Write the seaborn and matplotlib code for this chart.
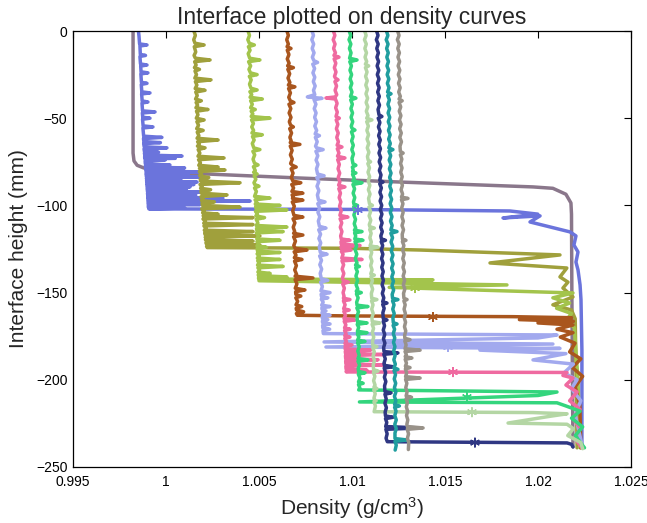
import numpy as np
import pandas as pd
import matplotlib
matplotlib.use("Agg")
import matplotlib.pyplot as plt
import seaborn as sns

# Density profiles (height in mm, density in g/cm^3), one list per run
run01 = [(0, 0.99823), (-70, 0.99823), (-74.5, 0.99828), (-77, 0.99845), (-78.5, 0.99880),
         (-81.4, 1.00091), (-84.3, 1.00720), (-86.6, 1.01258), (-89.4, 1.01973), (-90.2, 1.02080),
         (-93.6, 1.02150), (-98.6, 1.02177), (-105, 1.02180), (-150, 1.02182), (-200, 1.02185),
         (-238.5, 1.02188)]

run02 = [(0, 0.99852), (-3, 0.99855), (-7.4, 0.99858), (-8, 0.99898), (-8.6, 0.99860), (-13.4, 0.99862),
         (-14, 0.99890), (-14.6, 0.99860), (-18.9, 0.99863), (-19.5, 0.99898), (-20.1, 0.99864),
         (-23.4, 0.99866), (-24, 0.99903), (-24.6, 0.99865), (-29.4, 0.99868), (-30, 0.99898),
         (-30.6, 0.99867), (-34.9, 0.99870), (-35.5, 0.99914), (-36.1, 0.99869), (-40.1, 0.99872),
         (-40.7, 0.99903), (-41.3, 0.99871), (-45.8, 0.99874), (-46.4, 0.99941), (-47, 0.99873),
         (-49.4, 0.99875), (-50, 0.99914), (-50.6, 0.99874), (-54.4, 0.99877), (-55, 0.99930),
         (-55.6, 0.99876), (-60.3, 0.99880), (-61, 0.99978), (-61.7, 0.99879), (-63.4, 0.99881),
         (-64, 0.99970), (-64.6, 0.99880), (-66.4, 0.99883), (-67, 1.00005), (-67.6, 0.99882),
         (-69, 0.99884), (-69.5, 0.99960), (-70, 0.99884), (-71.1, 0.99886), (-71.7, 1.00086),
         (-72.3, 0.99885), (-72.6, 0.99886), (-73, 1.00050), (-73.4, 0.99887), (-74, 0.99995),
         (-74.6, 0.99888), (-76.2, 0.99889), (-76.8, 1.00021), (-77.4, 0.99889), (-78, 0.99890),
         (-78.5, 1.00100), (-79, 0.99891), (-80.2, 0.99892), (-80.8, 1.00183), (-81.4, 0.99893),
         (-81.8, 0.99893), (-82.2, 1.00120), (-82.6, 0.99894), (-83.2, 0.99894), (-83.7, 1.00183),
         (-84.3, 0.99895), (-84.6, 0.99895), (-85, 1.00080), (-85.4, 0.99896), (-86.1, 0.99896),
         (-86.6, 1.00167), (-87.1, 0.99897), (-87.6, 0.99897), (-88, 1.00150), (-88.4, 0.99898),
         (-88.9, 0.99898), (-89.4, 1.00129), (-89.9, 0.99899), (-90.6, 0.99899), (-91, 1.00110),
         (-91.4, 0.99900), (-91.8, 0.99900), (-92.3, 1.00183), (-92.8, 0.99901), (-93.6, 0.99901),
         (-94, 1.00160), (-94.4, 0.99902), (-95.3, 0.99902), (-95.8, 1.00306), (-96.3, 0.99903),
         (-97, 0.99903), (-97.5, 1.00452), (-98, 0.99904), (-99, 0.99904), (-99.5, 1.00183),
         (-100, 0.99905), (-101, 0.99905), (-101.5, 1.00100), (-102, 0.99908), (-102.3, 1.01000),
         (-103.2, 1.01849), (-105, 1.01999), (-107.2, 1.01812), (-106, 1.02011), (-109.5, 1.01957),
         (-115.2, 1.02172), (-117.5, 1.02204), (-122.7, 1.02193), (-126.7, 1.02215), (-132.5, 1.02204),
         (-137, 1.02215), (-145.6, 1.02226), (-154, 1.02231), (-183, 1.02236), (-238.5, 1.02236)]

run03 = [(0, 1.00150), (-2.5, 1.00158), (-5, 1.00149), (-7, 1.00156), (-8, 1.00205), (-9, 1.00152),
         (-12, 1.00160), (-14, 1.00151), (-15.6, 1.00158), (-16.6, 1.00237), (-17.6, 1.00154),
         (-19.5, 1.00162), (-21, 1.00153), (-22, 1.00180), (-23, 1.00156), (-25, 1.00164), (-27, 1.00155),
         (-28, 1.00242), (-29, 1.00158), (-31, 1.00166), (-33, 1.00157), (-34, 1.00210), (-35, 1.00160),
         (-37, 1.00168), (-39, 1.00159), (-40, 1.00190), (-41, 1.00162), (-42.5, 1.00170), (-44, 1.00161),
         (-45, 1.00226), (-46, 1.00164), (-48, 1.00172), (-50, 1.00163), (-51, 1.00205), (-52, 1.00166),
         (-54, 1.00175), (-56, 1.00165), (-57, 1.00200), (-58, 1.00168), (-60, 1.00177), (-61.5, 1.00167),
         (-62.5, 1.00280), (-63.5, 1.00170), (-65, 1.00179), (-66, 1.00169), (-67, 1.00210),
         (-68, 1.00173), (-70, 1.00182), (-71.8, 1.00172), (-72.8, 1.00312), (-73.8, 1.00175),
         (-75.5, 1.00185), (-77, 1.00176), (-78, 1.00280), (-78.8, 1.00180), (-79.7, 1.00317),
         (-80.6, 1.00179), (-82, 1.00190), (-83, 1.00181), (-84, 1.00230), (-85, 1.00184), (-86, 1.00186),
         (-87, 1.00398), (-88, 1.00183), (-89.5, 1.00195), (-90.2, 1.00186), (-91, 1.00240),
         (-91.8, 1.00188), (-93, 1.00190), (-94, 1.00328), (-95, 1.00188), (-96.5, 1.00200),
         (-97.2, 1.00191), (-98, 1.00260), (-98.8, 1.00194), (-100, 1.00196), (-101, 1.00398),
         (-102, 1.00192), (-103.5, 1.00206), (-104.2, 1.00197), (-105, 1.00280), (-105.8, 1.00200),
         (-106.2, 1.00201), (-107, 1.00468), (-107.8, 1.00199), (-109, 1.00212), (-110.2, 1.00203),
         (-111, 1.00468), (-111.8, 1.00204), (-113, 1.00215), (-114.2, 1.00206), (-115, 1.00468),
         (-115.8, 1.00208), (-116.7, 1.00210), (-117.5, 1.00505), (-118.3, 1.00211), (-119, 1.00222),
         (-119.7, 1.00212), (-120.5, 1.00468), (-121.3, 1.00215), (-121.9, 1.00216), (-122.7, 1.00505),
         (-123.5, 1.00218), (-124.2, 1.00222), (-124.6, 1.01000), (-125.6, 1.01370), (-128.4, 1.02118),
         (-133, 1.01742), (-135.9, 1.02155), (-141, 1.02118), (-144, 1.02161), (-147.4, 1.02134),
         (-152.5, 1.02188), (-157, 1.02080), (-160, 1.02180), (-165, 1.02200), (-200, 1.02205),
         (-239, 1.02210)]

run04 = [(0, 1.00441), (-2.5, 1.00449), (-5, 1.00440), (-7, 1.00448), (-8, 1.00475), (-9, 1.00443),
         (-11, 1.00452), (-13, 1.00442), (-15.6, 1.00450), (-16.6, 1.00505), (-17.6, 1.00444),
         (-20, 1.00455), (-22, 1.00446), (-24, 1.00454), (-25, 1.00490), (-26, 1.00448), (-28, 1.00458),
         (-30.5, 1.00449), (-32.8, 1.00457), (-33.8, 1.00490), (-34.8, 1.00451), (-36.5, 1.00461),
         (-38, 1.00452), (-39, 1.00518), (-40, 1.00455), (-42, 1.00464), (-44, 1.00455), (-45, 1.00480),
         (-46, 1.00458), (-47.5, 1.00467), (-49, 1.00458), (-50, 1.00559), (-51, 1.00460), (-53, 1.00470),
         (-55, 1.00461), (-57, 1.00471), (-58.5, 1.00462), (-59.5, 1.00518), (-60.5, 1.00465),
         (-62.5, 1.00474), (-64.5, 1.00464), (-67, 1.00472), (-68, 1.00505), (-69, 1.00467),
         (-71, 1.00477), (-73.5, 1.00468), (-75.8, 1.00476), (-76.8, 1.00495), (-77.8, 1.00470),
         (-80, 1.00480), (-81, 1.00471), (-82, 1.00490), (-83, 1.00474), (-85, 1.00483), (-87, 1.00473),
         (-88, 1.00477), (-89, 1.00500), (-90, 1.00476), (-92, 1.00486), (-94.8, 1.00476),
         (-95.8, 1.00559), (-96.8, 1.00479), (-98.5, 1.00489), (-99.2, 1.00480), (-100, 1.00613),
         (-100.8, 1.00482), (-101.8, 1.00484), (-102.6, 1.00650), (-103.4, 1.00481), (-105, 1.00492),
         (-106, 1.00483), (-107, 1.00530), (-108, 1.00485), (-110, 1.00494), (-111.5, 1.00485),
         (-112.4, 1.00650), (-113.2, 1.00487), (-114.2, 1.00488), (-115, 1.00630), (-115.8, 1.00486),
         (-117.5, 1.00497), (-119.2, 1.00488), (-120, 1.00613), (-120.8, 1.00489), (-122, 1.00498),
         (-123.2, 1.00489), (-124, 1.00540), (-124.8, 1.00490), (-126.2, 1.00492), (-127, 1.00613),
         (-127.8, 1.00490), (-129, 1.00500), (-130.2, 1.00491), (-131, 1.00613), (-131.8, 1.00493),
         (-133, 1.00501), (-134.2, 1.00492), (-135, 1.00630), (-135.8, 1.00494), (-137, 1.00503),
         (-138.2, 1.00494), (-139, 1.00560), (-139.8, 1.00496), (-140.3, 1.00497), (-141, 1.00650),
         (-141.7, 1.00497), (-142.2, 1.00500), (-142.7, 1.01435), (-143.2, 1.00500), (-145.6, 1.01833),
         (-147, 1.01200), (-150.2, 1.02188), (-153, 1.02080), (-156, 1.02170), (-159, 1.02100),
         (-162, 1.02180), (-166, 1.02150), (-170, 1.02195), (-200, 1.02215), (-239, 1.02226)]

run05 = [(0, 1.00650), (-2.5, 1.00658), (-5, 1.00649), (-7.5, 1.00658), (-9, 1.00651), (-10, 1.00672),
         (-11, 1.00652), (-13.5, 1.00661), (-16, 1.00652), (-18.5, 1.00662), (-20, 1.00654), (-21, 1.00685),
         (-22, 1.00655), (-24.5, 1.00665), (-27, 1.00656), (-29.5, 1.00666), (-31, 1.00658), (-32, 1.00693),
         (-33, 1.00659), (-35.5, 1.00669), (-38, 1.00660), (-40, 1.00668), (-41, 1.00688), (-42, 1.00661),
         (-44.5, 1.00671), (-47, 1.00662), (-49.5, 1.00672), (-52, 1.00663), (-54, 1.00670),
         (-55, 1.00685), (-56, 1.00665), (-58.5, 1.00675), (-61, 1.00666), (-63, 1.00673), (-64, 1.00668),
         (-65, 1.00720), (-66, 1.00668), (-68.5, 1.00678), (-71, 1.00669), (-73.5, 1.00679), (-76, 1.00670),
         (-77, 1.00680), (-78, 1.00700), (-79, 1.00673), (-81.5, 1.00683), (-84, 1.00674), (-86, 1.00682),
         (-87, 1.00725), (-88, 1.00676), (-90, 1.00686), (-92, 1.00677), (-93, 1.00736), (-94, 1.00678),
         (-95.2, 1.00684), (-96, 1.00680), (-97, 1.00736), (-98, 1.00679), (-100.5, 1.00690),
         (-103, 1.00681), (-105.7, 1.00688), (-106.7, 1.00736), (-107.7, 1.00683), (-110, 1.00693),
         (-112.5, 1.00684), (-115, 1.00692), (-116, 1.00686), (-117, 1.00736), (-118, 1.00686),
         (-120.5, 1.00696), (-123, 1.00687), (-124.6, 1.00694), (-125.6, 1.00758), (-126.6, 1.00689),
         (-128.5, 1.00699), (-130, 1.00690), (-131, 1.00731), (-132, 1.00691), (-134.5, 1.00701),
         (-137, 1.00692), (-139.5, 1.00702), (-140.6, 1.00694), (-141.6, 1.00790), (-142.6, 1.00694),
         (-145, 1.00704), (-147.5, 1.00695), (-148.5, 1.00747), (-149.5, 1.00697), (-151, 1.00698),
         (-152, 1.00725), (-153, 1.00698), (-155, 1.00708), (-157, 1.00699), (-158, 1.00730),
         (-159, 1.00700), (-160, 1.00702), (-161, 1.00740), (-162, 1.00701), (-163, 1.00706),
         (-163.4, 1.01000), (-163.8, 1.01865), (-164.4, 1.02180), (-165.5, 1.01900), (-166.5, 1.02190),
         (-167.4, 1.02000), (-168.6, 1.02188), (-171, 1.02102), (-173, 1.02188), (-175.5, 1.02120),
         (-179, 1.02199), (-184, 1.02170), (-188, 1.02230), (-193, 1.02185), (-198, 1.02240),
         (-204, 1.02200), (-215, 1.02225), (-239, 1.02230)]

run06 = [(0, 1.00785), (-2.5, 1.00793), (-5, 1.00784), (-7.5, 1.00794), (-10, 1.00786), (-12.5, 1.00796),
         (-15, 1.00787), (-17, 1.00795), (-18, 1.00815), (-19, 1.00789), (-21.5, 1.00799), (-24, 1.00790),
         (-26.5, 1.00800), (-29, 1.00792), (-31.5, 1.00802), (-34, 1.00793), (-36.5, 1.00800),
         (-37.8, 1.00760), (-38.2, 1.00800), (-38.6, 1.00839), (-39.4, 1.00796), (-42, 1.00806),
         (-44.5, 1.00797), (-47, 1.00807), (-49.5, 1.00799), (-52, 1.00809), (-54.5, 1.00800),
         (-57, 1.00810), (-59, 1.00802), (-60, 1.00825), (-61, 1.00803), (-63.5, 1.00813), (-66, 1.00804),
         (-67, 1.00810), (-68, 1.00845), (-69, 1.00806), (-71.5, 1.00816), (-74, 1.00807), (-76.5, 1.00817),
         (-79, 1.00809), (-82, 1.00815), (-83, 1.00850), (-84, 1.00811), (-86.5, 1.00821), (-89, 1.00812),
         (-91.5, 1.00822), (-94, 1.00814), (-97, 1.00820), (-98, 1.00855), (-99, 1.00816),
         (-101.5, 1.00826), (-104, 1.00817), (-106.5, 1.00827), (-109, 1.00819), (-112, 1.00825),
         (-113, 1.00860), (-114, 1.00821), (-116.5, 1.00831), (-119, 1.00822), (-121.5, 1.00832),
         (-124, 1.00824), (-127, 1.00830), (-128, 1.00866), (-129, 1.00826), (-131.5, 1.00836),
         (-134, 1.00827), (-136.5, 1.00837), (-139, 1.00829), (-142, 1.00835), (-143, 1.00870),
         (-144, 1.00831), (-146.5, 1.00841), (-149, 1.00833), (-150, 1.00882), (-151, 1.00834),
         (-152.2, 1.00836), (-153, 1.00870), (-153.8, 1.00835), (-155.5, 1.00845), (-157.2, 1.00837),
         (-158, 1.00882), (-158.8, 1.00838), (-159.7, 1.00839), (-160.5, 1.00860), (-161.3, 1.00839),
         (-162.2, 1.00840), (-163, 1.00882), (-163.8, 1.00840), (-164.7, 1.00841), (-165.5, 1.00870),
         (-166.3, 1.00841), (-167.2, 1.00842), (-168, 1.00882), (-168.8, 1.00842), (-170.2, 1.00843),
         (-171, 1.00880), (-171.8, 1.00844), (-173.5, 1.00846), (-174.3, 1.02102), (-176, 1.02000),
         (-178.3, 1.00850), (-179.5, 1.02080), (-181.2, 1.00860), (-182, 1.02118), (-183, 1.01688),
         (-185, 1.02150), (-188.6, 1.01973), (-191, 1.02190), (-196, 1.02140), (-200, 1.02210),
         (-205, 1.02180), (-212, 1.02230), (-220, 1.02200), (-239, 1.02240)]

run07 = [(0, 1.00900), (-2.5, 1.00908), (-5, 1.00899), (-7.5, 1.00909), (-10, 1.00901), (-12.5, 1.00911),
         (-14, 1.00903), (-15, 1.00930), (-16, 1.00904), (-18.5, 1.00913), (-21, 1.00905),
         (-23.5, 1.00914), (-26, 1.00906), (-27, 1.00911), (-28, 1.00925), (-29, 1.00908),
         (-31.5, 1.00917), (-34, 1.00909), (-36.5, 1.00918), (-37.8, 1.00910), (-38.4, 1.00860),
         (-39, 1.00911), (-41.5, 1.00920), (-44, 1.00912), (-46.5, 1.00921), (-49, 1.00914),
         (-50, 1.00932), (-51, 1.00915), (-53.5, 1.00924), (-56, 1.00916), (-58.5, 1.00926),
         (-61, 1.00918), (-63.5, 1.00927), (-65.5, 1.00920), (-66.5, 1.00946), (-67.5, 1.00921),
         (-70, 1.00930), (-71.8, 1.00922), (-72.8, 1.00962), (-73.8, 1.00923), (-76.5, 1.00932),
         (-79, 1.00925), (-81.5, 1.00934), (-84, 1.00926), (-86.5, 1.00935), (-88.4, 1.00928),
         (-89.4, 1.00962), (-90.4, 1.00929), (-93, 1.00938), (-95.5, 1.00931), (-98, 1.00940),
         (-100.5, 1.00933), (-103, 1.00942), (-105.7, 1.00935), (-106.7, 1.00978), (-107.7, 1.00936),
         (-110, 1.00945), (-112.5, 1.00937), (-115, 1.00946), (-117.5, 1.00939), (-119.2, 1.00942),
         (-120, 1.00989), (-120.8, 1.00941), (-122.2, 1.00942), (-123, 1.01043), (-123.8, 1.00941),
         (-124.8, 1.00944), (-125.6, 1.00995), (-126.4, 1.00943), (-128, 1.00952), (-130.2, 1.00945),
         (-131, 1.01054), (-131.8, 1.00946), (-134, 1.00955), (-136.5, 1.00947), (-139, 1.00956),
         (-141.5, 1.00949), (-143, 1.00952), (-144, 1.00980), (-145, 1.00950), (-147.5, 1.00959),
         (-150, 1.00952), (-152, 1.00957), (-153.2, 1.00954), (-154, 1.00989), (-154.8, 1.00954),
         (-157, 1.00963), (-159.2, 1.00955), (-160, 1.00985), (-160.8, 1.00956), (-163, 1.00965),
         (-164.9, 1.00957), (-165.7, 1.01016), (-166.5, 1.00958), (-168.5, 1.00967), (-170.2, 1.00960),
         (-171, 1.00990), (-171.8, 1.00960), (-173.5, 1.00968), (-174.7, 1.00961), (-175.5, 1.00989),
         (-176.3, 1.00961), (-178, 1.00970), (-179.2, 1.00962), (-180, 1.01000), (-180.8, 1.00963),
         (-181.6, 1.00965), (-182.3, 1.00963), (-183, 1.01100), (-183.7, 1.00964), (-184.8, 1.00965),
         (-185.5, 1.01167), (-186.2, 1.00965), (-187.8, 1.00966), (-188.5, 1.01140), (-189.2, 1.00966),
         (-190.8, 1.00967), (-191.5, 1.01167), (-192.2, 1.00967), (-193.8, 1.00968), (-194.5, 1.01080),
         (-195.2, 1.00968), (-195.5, 1.00970), (-195.8, 1.02156), (-197.5, 1.02134), (-199, 1.02188),
         (-203, 1.02150), (-207, 1.02210), (-212, 1.02170), (-217, 1.02226), (-222, 1.02185),
         (-228, 1.02230), (-233, 1.02195), (-239, 1.02235)]

run08 = [(0, 1.00985), (-2.5, 1.00993), (-5, 1.00984), (-7.5, 1.00994), (-10, 1.00986), (-12.5, 1.00995),
         (-15.6, 1.00987), (-16.6, 1.01027), (-17.6, 1.00988), (-20, 1.00997), (-22.5, 1.00989),
         (-25, 1.00998), (-27.5, 1.00990), (-30, 1.00999), (-32.5, 1.00991), (-35, 1.01000),
         (-37.5, 1.00992), (-38.5, 1.01021), (-39.5, 1.00993), (-42, 1.01002), (-44.5, 1.00994),
         (-47, 1.01003), (-49.5, 1.00995), (-52, 1.01004), (-54.5, 1.00996), (-55.8, 1.01000),
         (-56.8, 1.01016), (-57.8, 1.00997), (-60.5, 1.01006), (-63, 1.00998), (-65.5, 1.01007),
         (-68, 1.00999), (-70.5, 1.01008), (-73, 1.01000), (-76, 1.01005), (-77, 1.01021), (-78, 1.01002),
         (-79.5, 1.01006), (-80.6, 1.01003), (-81.4, 1.01021), (-82.2, 1.01003), (-84.5, 1.01012),
         (-86, 1.01004), (-87, 1.01054), (-88, 1.01005), (-90.5, 1.01014), (-93, 1.01006),
         (-95.5, 1.01015), (-98, 1.01008), (-99.2, 1.01010), (-100, 1.01030), (-100.8, 1.01009),
         (-103, 1.01018), (-105.5, 1.01010), (-108, 1.01019), (-110.5, 1.01012), (-113, 1.01020),
         (-114.2, 1.01013), (-115, 1.01054), (-115.8, 1.01014), (-117.5, 1.01020), (-119.2, 1.01015),
         (-120, 1.01059), (-120.8, 1.01016), (-123, 1.01025), (-125.5, 1.01017), (-128, 1.01026),
         (-130.5, 1.01018), (-133, 1.01027), (-134.2, 1.01019), (-135, 1.01040), (-135.8, 1.01020),
         (-138, 1.01029), (-140.5, 1.01021), (-143, 1.01030), (-145.5, 1.01022), (-148, 1.01031),
         (-149.2, 1.01023), (-150, 1.01050), (-150.8, 1.01024), (-153, 1.01033), (-155.5, 1.01025),
         (-157.2, 1.01027), (-158, 1.01086), (-158.8, 1.01026), (-161, 1.01035), (-163.5, 1.01027),
         (-166.6, 1.01029), (-167.4, 1.01081), (-168.2, 1.01028), (-170, 1.01036), (-172.2, 1.01029),
         (-173, 1.01081), (-173.8, 1.01029), (-175.5, 1.01037), (-177.2, 1.01030), (-178, 1.01070),
         (-178.8, 1.01030), (-181, 1.01039), (-183.5, 1.01031), (-186, 1.01039), (-187.8, 1.01032),
         (-188.6, 1.01086), (-189.4, 1.01032), (-191.5, 1.01041), (-193.5, 1.01033), (-195.2, 1.01035),
         (-196, 1.01070), (-196.8, 1.01034), (-199, 1.01043), (-201.2, 1.01035), (-202, 1.01060),
         (-202.8, 1.01035), (-204.5, 1.01042), (-205.8, 1.01036), (-207, 1.02102), (-209, 1.02000),
         (-212.7, 1.01040), (-213.2, 1.02102), (-215, 1.02150), (-218, 1.02226), (-222, 1.02180),
         (-227, 1.02240), (-232, 1.02200), (-239, 1.02250)]

run09 = [(0, 1.01068), (-2.5, 1.01076), (-5, 1.01067), (-7.5, 1.01077), (-10, 1.01069), (-12.5, 1.01078),
         (-15, 1.01070), (-17.5, 1.01079), (-19, 1.01072), (-20, 1.01090), (-21, 1.01072),
         (-23.5, 1.01081), (-26, 1.01073), (-28.5, 1.01082), (-31, 1.01074), (-33.5, 1.01083),
         (-36, 1.01075), (-38.5, 1.01084), (-41, 1.01076), (-43.5, 1.01085), (-46, 1.01077),
         (-48.5, 1.01086), (-50, 1.01079), (-51, 1.01107), (-52, 1.01079), (-54.5, 1.01088),
         (-57, 1.01080), (-59.5, 1.01089), (-62, 1.01081), (-64.5, 1.01090), (-67, 1.01082),
         (-69.5, 1.01091), (-72, 1.01083), (-74, 1.01087), (-75, 1.01100), (-76, 1.01085),
         (-78.5, 1.01094), (-81, 1.01086), (-83.5, 1.01095), (-86, 1.01087), (-88.5, 1.01096),
         (-91, 1.01088), (-93.5, 1.01097), (-96, 1.01089), (-99, 1.01094), (-100, 1.01110),
         (-101, 1.01091), (-103.5, 1.01100), (-106, 1.01092), (-108.5, 1.01101), (-111, 1.01093),
         (-112.2, 1.01096), (-113, 1.01120), (-113.8, 1.01095), (-116, 1.01103), (-118.5, 1.01096),
         (-121, 1.01104), (-123.2, 1.01097), (-124, 1.01140), (-124.8, 1.01098), (-127, 1.01106),
         (-129.5, 1.01099), (-132, 1.01107), (-134.5, 1.01100), (-137, 1.01108), (-139.2, 1.01101),
         (-140, 1.01120), (-140.8, 1.01102), (-143, 1.01110), (-145.5, 1.01103), (-148, 1.01111),
         (-150.5, 1.01104), (-153.2, 1.01106), (-154, 1.01134), (-154.8, 1.01105), (-157, 1.01113),
         (-159.5, 1.01106), (-162, 1.01114), (-164.5, 1.01107), (-166.6, 1.01109), (-167.4, 1.01150),
         (-168.2, 1.01108), (-170.5, 1.01116), (-173, 1.01109), (-175.5, 1.01117), (-178, 1.01110),
         (-180.2, 1.01112), (-181, 1.01134), (-181.8, 1.01112), (-184, 1.01120), (-186.5, 1.01113),
         (-189, 1.01121), (-191.5, 1.01114), (-194.2, 1.01116), (-195, 1.01140), (-195.8, 1.01115),
         (-198, 1.01123), (-200.5, 1.01116), (-203, 1.01124), (-204.2, 1.01118), (-205, 1.01134),
         (-205.8, 1.01117), (-208, 1.01125), (-210.5, 1.01118), (-211.4, 1.01120), (-212, 1.01130),
         (-212.6, 1.01118), (-215, 1.01126), (-218.3, 1.01119), (-218.8, 1.01973), (-219.5, 1.02156),
         (-221, 1.02060), (-224.8, 1.01839), (-225.5, 1.02156), (-228, 1.02190), (-232, 1.02160),
         (-236, 1.02230), (-239.5, 1.02240)]

run10 = [(0, 1.01132), (-2.5, 1.01140), (-5, 1.01131), (-7.5, 1.01141), (-10, 1.01133), (-12.5, 1.01142),
         (-15, 1.01134), (-17.5, 1.01143), (-20, 1.01135), (-22.5, 1.01144), (-25, 1.01136),
         (-27.5, 1.01145), (-30, 1.01137), (-32.5, 1.01146), (-35, 1.01138), (-37.5, 1.01147),
         (-40, 1.01139), (-42.5, 1.01148), (-45, 1.01140), (-48, 1.01145), (-49, 1.01161), (-50, 1.01141),
         (-52.5, 1.01150), (-55, 1.01142), (-57.5, 1.01151), (-60, 1.01143), (-62.5, 1.01152),
         (-65, 1.01144), (-67.5, 1.01153), (-70, 1.01145), (-72.5, 1.01154), (-75, 1.01146),
         (-77.5, 1.01155), (-80, 1.01147), (-82.5, 1.01156), (-85.6, 1.01149), (-86.6, 1.01167),
         (-87.6, 1.01149), (-90, 1.01158), (-92.5, 1.01150), (-95, 1.01159), (-97.5, 1.01151),
         (-100, 1.01160), (-102.5, 1.01152), (-105, 1.01161), (-107.5, 1.01153), (-110, 1.01162),
         (-112.5, 1.01154), (-115, 1.01163), (-117.5, 1.01155), (-119.2, 1.01158), (-120, 1.01180),
         (-120.8, 1.01157), (-123, 1.01165), (-125.5, 1.01158), (-128, 1.01166), (-130.5, 1.01159),
         (-133, 1.01167), (-135.5, 1.01160), (-138, 1.01168), (-140.5, 1.01161), (-143, 1.01169),
         (-145.5, 1.01162), (-148, 1.01170), (-150.5, 1.01163), (-153, 1.01171), (-155.2, 1.01165),
         (-156, 1.01188), (-156.8, 1.01165), (-159, 1.01173), (-161.5, 1.01166), (-164.9, 1.01168),
         (-165.7, 1.01188), (-166.5, 1.01168), (-169, 1.01175), (-171.5, 1.01168), (-174, 1.01176),
         (-176.5, 1.01169), (-179, 1.01177), (-181.5, 1.01170), (-183.8, 1.01172), (-184.6, 1.01247),
         (-185.4, 1.01171), (-188, 1.01179), (-190.5, 1.01172), (-191.7, 1.01174), (-192.5, 1.01220),
         (-193.3, 1.01173), (-196, 1.01181), (-198.5, 1.01174), (-201, 1.01182), (-203.5, 1.01175),
         (-206.7, 1.01177), (-207.5, 1.01210), (-208.3, 1.01177), (-211, 1.01184), (-213.5, 1.01177),
         (-216, 1.01185), (-218.5, 1.01178), (-220.7, 1.01180), (-221.5, 1.01220), (-222.3, 1.01180),
         (-224.5, 1.01187), (-226.8, 1.01181), (-227.6, 1.01366), (-228.4, 1.01182), (-231, 1.01189),
         (-233.5, 1.01183), (-235.5, 1.01190), (-236.2, 1.02156), (-237, 1.02180), (-238.5, 1.02188)]

run11 = [(0, 1.01185), (-2.5, 1.01193), (-5, 1.01184), (-7.5, 1.01194), (-10, 1.01186), (-12.5, 1.01195),
         (-15, 1.01187), (-17.5, 1.01196), (-20, 1.01188), (-22.5, 1.01197), (-25, 1.01189),
         (-27.5, 1.01198), (-30, 1.01190), (-32.5, 1.01199), (-35, 1.01191), (-36, 1.01210),
         (-37, 1.01192), (-39.5, 1.01201), (-42, 1.01193), (-44.5, 1.01202), (-47, 1.01194),
         (-49.5, 1.01203), (-52, 1.01195), (-54.5, 1.01204), (-57, 1.01196), (-59.5, 1.01205),
         (-62, 1.01197), (-64.5, 1.01206), (-67, 1.01198), (-68, 1.01220), (-69, 1.01199),
         (-71.5, 1.01208), (-74, 1.01200), (-76.5, 1.01209), (-79, 1.01201), (-81.5, 1.01210),
         (-84, 1.01202), (-86.5, 1.01211), (-89, 1.01203), (-91.5, 1.01212), (-94, 1.01204),
         (-96.5, 1.01213), (-99, 1.01205), (-101.5, 1.01214), (-104, 1.01206), (-106.5, 1.01215),
         (-109, 1.01207), (-111.5, 1.01216), (-114, 1.01209), (-115, 1.01242), (-116, 1.01209),
         (-118.5, 1.01218), (-121, 1.01210), (-123.5, 1.01219), (-126, 1.01211), (-128.5, 1.01220),
         (-131, 1.01212), (-133.5, 1.01221), (-136, 1.01213), (-138.5, 1.01222), (-141, 1.01214),
         (-143.5, 1.01223), (-146, 1.01215), (-148.5, 1.01224), (-151, 1.01216), (-153.2, 1.01218),
         (-154, 1.01247), (-154.8, 1.01218), (-157, 1.01226), (-159.5, 1.01219), (-162, 1.01227),
         (-164.5, 1.01220), (-167.2, 1.01222), (-168, 1.01242), (-168.8, 1.01221), (-171, 1.01229),
         (-173.5, 1.01222), (-176, 1.01230), (-178.5, 1.01223), (-181, 1.01231), (-183.5, 1.01224),
         (-186, 1.01232), (-188.5, 1.01225), (-191, 1.01233), (-193.2, 1.01226), (-194, 1.01247),
         (-194.8, 1.01226), (-197, 1.01234), (-199.5, 1.01227), (-202, 1.01235), (-204.5, 1.01228),
         (-207, 1.01236), (-209.5, 1.01228), (-212, 1.01236), (-214.2, 1.01229), (-215, 1.01255),
         (-215.8, 1.01229), (-218, 1.01237), (-220.5, 1.01230), (-223, 1.01238), (-225.5, 1.01230),
         (-228, 1.01238), (-230.5, 1.01231), (-233.7, 1.01231), (-234.5, 1.01296), (-235.3, 1.01231),
         (-237.5, 1.01238), (-240.3, 1.01232)]

run12 = [(0, 1.01245), (-2.5, 1.01253), (-5, 1.01244), (-7.5, 1.01254), (-10, 1.01246), (-12.5, 1.01255),
         (-15, 1.01247), (-17.5, 1.01256), (-20, 1.01248), (-22.5, 1.01257), (-25, 1.01249),
         (-27.5, 1.01258), (-30, 1.01250), (-32.5, 1.01259), (-35, 1.01251), (-37.5, 1.01260),
         (-39, 1.01253), (-40, 1.01270), (-41, 1.01253), (-43.5, 1.01262), (-46, 1.01254),
         (-48.5, 1.01263), (-51, 1.01255), (-53.5, 1.01264), (-56, 1.01256), (-58.5, 1.01265),
         (-61, 1.01257), (-63.5, 1.01266), (-66, 1.01258), (-69, 1.01260), (-70, 1.01275), (-71, 1.01260),
         (-73.5, 1.01268), (-76, 1.01261), (-78.5, 1.01269), (-81, 1.01262), (-83.5, 1.01270),
         (-86, 1.01263), (-88.5, 1.01271), (-91, 1.01264), (-93.5, 1.01272), (-95.2, 1.01266),
         (-96, 1.01301), (-96.8, 1.01266), (-99, 1.01274), (-101.5, 1.01267), (-104, 1.01275),
         (-106.5, 1.01268), (-109, 1.01276), (-111.5, 1.01269), (-114, 1.01277), (-116.5, 1.01270),
         (-119.2, 1.01271), (-120, 1.01290), (-120.8, 1.01271), (-123, 1.01279), (-125.5, 1.01272),
         (-128, 1.01280), (-130.5, 1.01273), (-133, 1.01281), (-135.5, 1.01274), (-138, 1.01282),
         (-140.5, 1.01275), (-143, 1.01283), (-145.5, 1.01276), (-148, 1.01284), (-150.5, 1.01277),
         (-153.2, 1.01279), (-154, 1.01296), (-154.8, 1.01279), (-157, 1.01286), (-159.5, 1.01280),
         (-162, 1.01287), (-164.5, 1.01281), (-167, 1.01288), (-169.5, 1.01282), (-172, 1.01289),
         (-174.5, 1.01283), (-176.2, 1.01284), (-177, 1.01312), (-177.8, 1.01284), (-180, 1.01291),
         (-182.2, 1.01285), (-183, 1.01366), (-183.8, 1.01285), (-185.5, 1.01292), (-186.7, 1.01286),
         (-187.5, 1.01322), (-188.3, 1.01286), (-190.5, 1.01293), (-192.2, 1.01287), (-193, 1.01312),
         (-193.8, 1.01287), (-196, 1.01294), (-198.2, 1.01288), (-199, 1.01366), (-199.8, 1.01288),
         (-202, 1.01295), (-204.5, 1.01289), (-207, 1.01296), (-209.2, 1.01291), (-210, 1.01320),
         (-210.8, 1.01291), (-213, 1.01298), (-215.5, 1.01292), (-218, 1.01299), (-220.5, 1.01293),
         (-223, 1.01300), (-225.5, 1.01295), (-226.8, 1.01297), (-227.6, 1.01382), (-228.4, 1.01297),
         (-231, 1.01304), (-233.5, 1.01298), (-236, 1.01305), (-240, 1.01303)]

profiles = [run01, run02, run03, run04, run05, run06, run07, run08, run09, run10, run11, run12]
run_names = [f"run{i:02d}" for i in range(1, 13)]
run_colors = ["#8a778b", "#6b74dc", "#a0a03c", "#a3c44c", "#a9561e", "#a2a9ee",
              "#ef6aa0", "#33d57d", "#b4d6a4", "#2f3783", "#209e9f", "#999289"]

# Detected interface (run, density, height)
iface_runs = ["run02", "run04", "run05", "run06", "run07", "run08", "run09", "run10"]
iface_density = [1.01032, 1.01339, 1.01435, 1.01516, 1.01543, 1.01618, 1.01645, 1.01661]
iface_height = [-102.6, -147.4, -164.0, -181.2, -195.6, -210.0, -218.6, -236.0]

frames = []
for name, prof in zip(run_names, profiles):
    arr = np.array(prof)
    frames.append(pd.DataFrame({"run": name, "height": arr[:, 0], "density": arr[:, 1]}))
profile_df = pd.concat(frames, ignore_index=True)
iface_df = pd.DataFrame({"run": iface_runs, "density": iface_density, "height": iface_height})

sns.set_style("white")
plt.rcParams["font.family"] = ["Liberation Sans", "DejaVu Sans"]
plt.rcParams["mathtext.fontset"] = "custom"
plt.rcParams["mathtext.rm"] = "Liberation Sans"
plt.rcParams["mathtext.it"] = "Liberation Sans:italic"

fig = plt.figure(figsize=(6.47, 5.23), dpi=100)
ax = fig.add_axes([0.1128, 0.1071, 0.8625, 0.8336])

palette = dict(zip(run_names, run_colors))
sns.lineplot(data=profile_df, x="density", y="height", hue="run", hue_order=run_names,
             palette=palette, sort=False, estimator=None, linewidth=2.5, legend=False, ax=ax)
sns.scatterplot(data=iface_df, x="density", y="height", hue="run", palette=palette,
                marker=(6, 2, 0), s=40, linewidth=1.0, legend=False, ax=ax, zorder=5)

ax.set_xlim(0.995, 1.025)
ax.set_ylim(-250, 0)
ax.set_xticks([0.995, 1.0, 1.005, 1.01, 1.015, 1.02, 1.025])
ax.set_xticklabels(["0.995", "1", "1.005", "1.01", "1.015", "1.02", "1.025"])
ax.set_yticks([-250, -200, -150, -100, -50, 0])
ax.set_yticklabels(["\u2212250", "\u2212200", "\u2212150", "\u2212100", "\u221250", "0"])
ax.tick_params(direction="in", length=5, width=0.8, top=True, right=True,
               labelsize=10, colors="black")
ax.tick_params(axis="x", pad=6)
ax.tick_params(axis="y", pad=4)
for sp in ax.spines.values():
    sp.set_color("black")
    sp.set_linewidth(0.9)

ax.set_xlabel("Density (g/cm$^{3}$)", fontsize=15, labelpad=4)
ax.set_ylabel("Interface height (mm)", fontsize=15, labelpad=6)
ax.set_title("Interface plotted on density curves", fontsize=16.5, pad=5)

fig.savefig("out.png", dpi=100, facecolor="white")
